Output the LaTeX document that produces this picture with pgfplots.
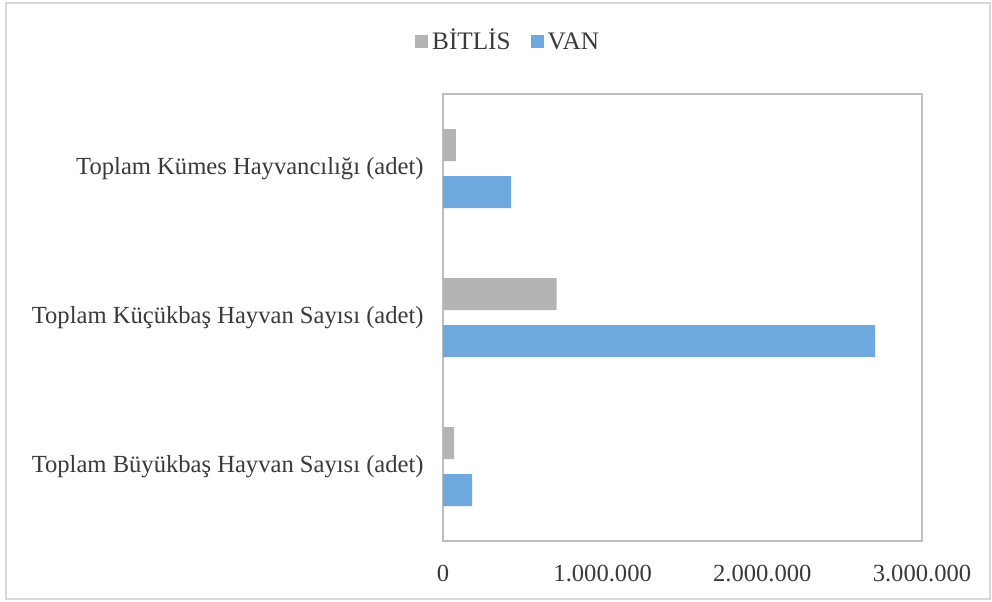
\documentclass[border=0pt]{standalone}
\usepackage{fontspec}
\setmainfont{Liberation Serif}
\usepackage{pgfplots}
\pgfplotsset{compat=1.18}
\definecolor{bitlis}{HTML}{B4B4B4}
\definecolor{van}{HTML}{6FA8DC}
\definecolor{txt}{HTML}{3A3A3A}
\begin{document}
\begin{tikzpicture}
\fill[white] (0,0) rectangle (496pt,300.5pt);
\draw[draw=black!15, line width=1pt] (3pt,1pt) rectangle (495pt,299pt);
\begin{axis}[
  at={(221.5pt,30pt)}, anchor=south west,
  scale only axis, width=239.5pt, height=223.5pt,
  xbar, bar width=16pt,
  xmin=0, xmax=3000000, ymin=-0.5, ymax=2.5,
  scaled x ticks=false,
  xtick={0,1000000,2000000,3000000},
  xticklabels={0,1.000.000,2.000.000,3.000.000},
  ytick={0,1,2},
  yticklabels={Toplam Büyükbaş Hayvan Sayısı (adet),Toplam Küçükbaş Hayvan Sayısı (adet),Toplam Kümes Hayvancılığı (adet)},
  major tick length=0pt,
  axis line style={draw=black!25, line width=1pt},
  tick label style={font=\fontsize{12.3}{14}\selectfont, text=txt},
  xticklabel style={anchor=center, yshift=-16pt},
  yticklabel style={anchor=east, inner sep=0pt, xshift=-9.5pt},
  legend style={at={(0.138,1.1186)}, anchor=center, draw=none, fill=none,
    legend columns=-1, font=\fontsize{12.6}{14}\selectfont, text=txt,
    nodes={text height=2.2ex, text depth=0.3ex},
    /tikz/every even column/.append style={column sep=8pt}},
  legend image code/.code={\fill[#1] (0pt,-3.5pt) rectangle (6.5pt,3pt);},
]
\addplot[fill=bitlis, draw=none, bar shift=11.75pt] coordinates {(69000,0) (712000,1) (81000,2)};
\addplot[fill=van, draw=none, bar shift=-11.75pt] coordinates {(182000,0) (2706000,1) (426000,2)};
\legend{BİTLİS,VAN}
\end{axis}
\end{tikzpicture}
\end{document}
